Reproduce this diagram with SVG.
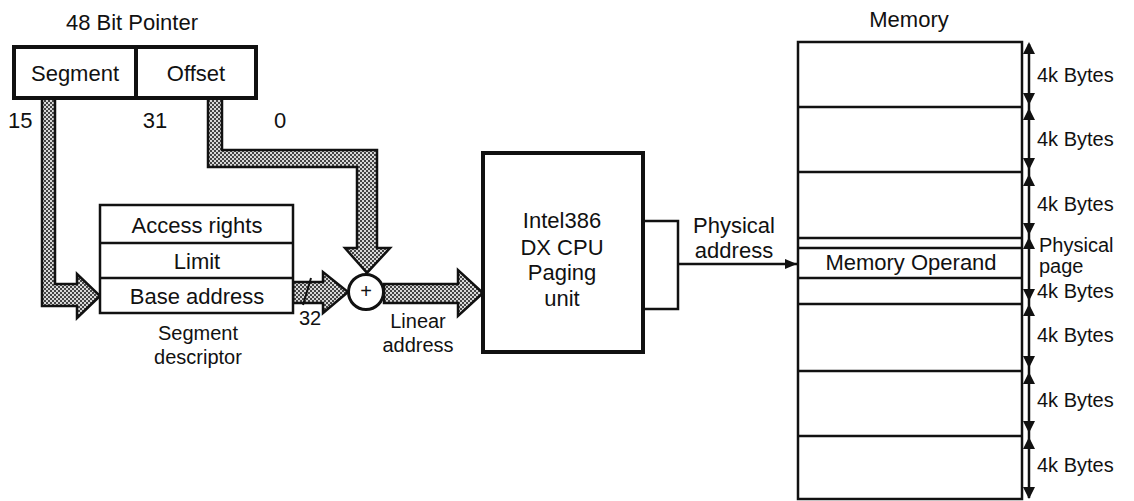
<svg xmlns="http://www.w3.org/2000/svg" width="1134" height="501" viewBox="0 0 1134 501">
<style>
  text { font-family: "Liberation Sans", Arial, sans-serif; fill: #111; }
  .t22 { font-size: 22px; }
  .t20 { font-size: 20px; }
  .mid { text-anchor: middle; }
  .box { fill: #fff; stroke: #111; stroke-width: 2.5; }
  .ln { fill: none; stroke: #111; stroke-width: 2.5; }
  .fat { fill: url(#dots); stroke: #111; stroke-width: 2.5; stroke-linejoin: miter; }
  .ah { fill: #111; stroke: none; }
</style>
<defs>
  <pattern id="dots" width="4" height="4" patternUnits="userSpaceOnUse">
    <rect width="4" height="4" fill="#d8d8d8"/>
    <rect x="0" y="0" width="2" height="2" fill="#444"/>
    <rect x="2" y="2" width="2" height="2" fill="#444"/>
  </pattern>
  <marker id="arr" markerWidth="12" markerHeight="10" refX="12" refY="5" orient="auto" markerUnits="userSpaceOnUse">
    <path d="M0,0 L12,5 L0,10 Z" fill="#111"/>
  </marker>
</defs>
<rect width="1134" height="501" fill="#fff"/>

<g id="connectors">
  <path class="fat" d="M42,98 L55,98 L55,284 L77,284 L77,274 L100,296 L77,318 L77,306 L42,306 Z"/>
  <path class="fat" d="M208,98 L222,98 L222,150 L377,150 L377,248 L390,248 L367,273 L345,248 L357,248 L357,167 L208,167 Z"/>
  <path class="fat" d="M293,282 L323,282 L323,272 L348,292 L323,313 L323,303 L293,303 Z"/>
  <line x1="303" y1="305" x2="311" y2="278" stroke="#111" stroke-width="2"/>
  <path class="fat" d="M384,284 L458,284 L458,270 L483,293 L458,316 L458,303 L384,303 Z"/>
  <line x1="678" y1="264" x2="797" y2="264" stroke="#111" stroke-width="2.5" marker-end="url(#arr)"/>
</g>

<g id="pointer">
  <text class="t22 mid" x="132" y="30">48 Bit Pointer</text>
  <rect x="14" y="47" width="242" height="51" fill="#fff" stroke="#111" stroke-width="4"/>
  <line x1="136" y1="47" x2="136" y2="98" stroke="#111" stroke-width="4"/>
  <text class="t22 mid" x="75" y="81">Segment</text>
  <text class="t22 mid" x="196" y="81">Offset</text>
  <text class="t22" x="8" y="128">15</text>
  <text class="t22 mid" x="155" y="128">31</text>
  <text class="t22 mid" x="280" y="128">0</text>
</g>

<g id="descriptor">
  <rect class="box" x="100" y="205" width="193" height="108"/>
  <line class="ln" x1="100" y1="243" x2="293" y2="243"/>
  <line class="ln" x1="100" y1="278" x2="293" y2="278"/>
  <text class="t22 mid" x="197" y="233">Access rights</text>
  <text class="t22 mid" x="197" y="269">Limit</text>
  <text class="t22 mid" x="197" y="304">Base address</text>
  <text class="t20 mid" x="198" y="340">Segment</text>
  <text class="t20 mid" x="198" y="364">descriptor</text>
  <text class="t20 mid" x="310" y="325">32</text>
</g>

<g id="adder">
  <circle cx="366" cy="292" r="17.5" fill="#fff" stroke="#111" stroke-width="3"/>
  <text class="t20 mid" x="366" y="298">+</text>
  <text class="t20 mid" x="418" y="328">Linear</text>
  <text class="t20 mid" x="418" y="352">address</text>
</g>

<g id="cpu">
  <rect x="483" y="153" width="160" height="199" fill="#fff" stroke="#111" stroke-width="4"/>
  <polyline class="ln" points="643,221 678,221 678,309 643,309"/>
  <text class="t22 mid" x="562" y="228">Intel386</text>
  <text class="t22 mid" x="562" y="255">DX CPU</text>
  <text class="t22 mid" x="562" y="280">Paging</text>
  <text class="t22 mid" x="562" y="306">unit</text>
  <text class="t22 mid" x="734" y="233">Physical</text>
  <text class="t22 mid" x="734" y="258">address</text>
</g>

<g id="memory">
  <text class="t22 mid" x="909" y="27">Memory</text>
  <rect class="box" x="798" y="42" width="224" height="457"/>
  <line class="ln" x1="798" y1="107" x2="1022" y2="107"/>
  <line class="ln" x1="798" y1="172" x2="1022" y2="172"/>
  <line class="ln" x1="798" y1="238" x2="1022" y2="238"/>
  <line class="ln" x1="798" y1="248" x2="1022" y2="248"/>
  <line class="ln" x1="798" y1="278" x2="1022" y2="278"/>
  <line class="ln" x1="798" y1="304" x2="1022" y2="304"/>
  <line class="ln" x1="798" y1="371" x2="1022" y2="371"/>
  <line class="ln" x1="798" y1="436" x2="1022" y2="436"/>
  <text class="t22 mid" x="911" y="270">Memory Operand</text>
</g>

<g id="sizes">
  <line class="ln" x1="1029" y1="44" x2="1029" y2="498"/>
  <path class="ah" d="M1029,42 L1035,54 L1023,54 Z M1029,105 L1035,93 L1023,93 Z"/>
  <path class="ah" d="M1029,108 L1035,120 L1023,120 Z M1029,170 L1035,158 L1023,158 Z"/>
  <path class="ah" d="M1029,174 L1035,186 L1023,186 Z M1029,235 L1035,223 L1023,223 Z"/>
  <path class="ah" d="M1029,237 L1035,249 L1023,249 Z M1029,301 L1035,289 L1023,289 Z"/>
  <path class="ah" d="M1029,304 L1035,316 L1023,316 Z M1029,368 L1035,356 L1023,356 Z"/>
  <path class="ah" d="M1029,372 L1035,384 L1023,384 Z M1029,433 L1035,421 L1023,421 Z"/>
  <path class="ah" d="M1029,437 L1035,449 L1023,449 Z M1029,499 L1035,487 L1023,487 Z"/>
  <text class="t20" x="1037" y="82">4k Bytes</text>
  <text class="t20" x="1037" y="146">4k Bytes</text>
  <text class="t20" x="1037" y="211">4k Bytes</text>
  <text class="t20" x="1039" y="252">Physical</text>
  <text class="t20" x="1039" y="273">page</text>
  <text class="t20" x="1037" y="298">4k Bytes</text>
  <text class="t20" x="1037" y="342">4k Bytes</text>
  <text class="t20" x="1037" y="407">4k Bytes</text>
  <text class="t20" x="1037" y="472">4k Bytes</text>
</g>
</svg>
